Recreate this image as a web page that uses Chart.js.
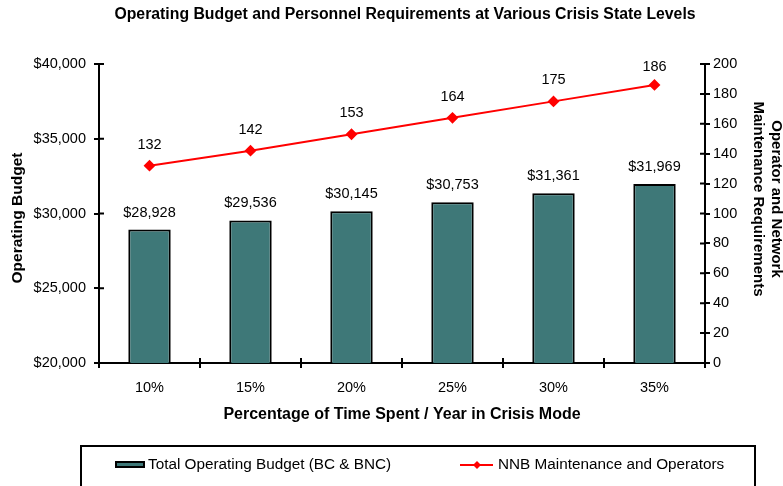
<!DOCTYPE html>
<html>
<head>
<meta charset="utf-8">
<script src="https://cdn.jsdelivr.net/npm/chart.js@4.4.1/dist/chart.umd.min.js"></script>
<style>
  html, body { margin: 0; padding: 0; background: #fff; }
  canvas { display: block; }
</style>
</head>
<body>
<canvas id="budgetChart" width="783" height="486"></canvas>
<script>
// ====== Chart Data ======
const crisisLevels = ['10%', '15%', '20%', '25%', '30%', '35%'];
const operatingBudget = [28928, 29536, 30145, 30753, 31361, 31969];
const personnelNeeds = [132, 142, 153, 164, 175, 186];
const budgetTicks = [20000, 25000, 30000, 35000, 40000];
const personnelTicks = [0, 20, 40, 60, 80, 100, 120, 140, 160, 180, 200];

const chartTitle = 'Operating Budget and Personnel Requirements at Various Crisis State Levels';
const leftTitle = 'Operating Budget';
const rightTitle = ['Operator and Network', 'Maintenance Requirements'];
const FONT = "'Liberation Sans', Arial, sans-serif";
const BAR_COLOR = '#3e7878';

// ====== Small plugins ======
const titles = {
  id: 'titles',
  afterDraw(chart) {
    const { ctx, chartArea } = chart;
    ctx.save();
    ctx.fillStyle = '#000';
    ctx.textAlign = 'center';
    ctx.textBaseline = 'middle';
    ctx.font = 'bold 15.8px ' + FONT;
    ctx.fillText(chartTitle, (chartArea.left + chartArea.right) / 2 + 3, 15);

    // left axis title
    ctx.font = 'bold 15.5px ' + FONT;
    ctx.save();
    ctx.translate(18, 218);
    ctx.rotate(-Math.PI / 2);
    ctx.fillText(leftTitle, 0, 0);
    ctx.restore();

    // right axis title, two lines
    ctx.font = 'bold 15px ' + FONT;
    ctx.save();
    ctx.translate(776, 199);
    ctx.rotate(Math.PI / 2);
    ctx.fillText(rightTitle[0], 0, 0);
    ctx.fillText(rightTitle[1], 0, 18);
    ctx.restore();
    ctx.restore();
  }
};

const valueLabels = {
  id: 'valueLabels',
  afterDatasetsDraw(chart) {
    const { ctx, chartArea } = chart;
    ctx.save();
    ctx.font = '14.5px ' + FONT;
    ctx.fillStyle = '#000';
    ctx.textAlign = 'center';
    ctx.textBaseline = 'middle';
    chart.data.datasets.forEach((ds, i) => {
      chart.getDatasetMeta(i).data.forEach((el, j) => {
        const v = ds.data[j];
        if (ds.type === 'bar') {
          ctx.fillText('$' + v.toLocaleString('en-US'), el.x, el.y - 17);
        } else {
          ctx.fillText(String(v), el.x, Math.max(el.y - 21, chartArea.top + 3));
        }
      });
    });
    ctx.restore();
  }
};

// ticks that cross the axis line (inner half)
const innerTicks = {
  id: 'innerTicks',
  afterDraw(chart) {
    const { ctx, chartArea, scales } = chart;
    ctx.save();
    ctx.strokeStyle = '#000';
    ctx.lineWidth = 2;
    ctx.beginPath();
    scales.y.ticks.forEach((t, i) => {
      const y = scales.y.getPixelForTick(i);
      ctx.moveTo(chartArea.left, y); ctx.lineTo(chartArea.left + 5, y);
    });
    scales.y1.ticks.forEach((t, i) => {
      const y = scales.y1.getPixelForTick(i);
      ctx.moveTo(chartArea.right - 5, y); ctx.lineTo(chartArea.right, y);
    });
    const x = scales.x;
    const step = x.getPixelForValue(1) - x.getPixelForValue(0);
    for (let i = 0; i <= crisisLevels.length; i++) {
      const px = x.getPixelForValue(0) - step / 2 + i * step;
      ctx.moveTo(px, chartArea.bottom - 5); ctx.lineTo(px, chartArea.bottom);
    }
    ctx.stroke();
    ctx.restore();
  }
};

const boxLegend = {
  id: 'boxLegend',
  afterDraw(chart) {
    const ctx = chart.ctx;
    const bar = chart.data.datasets[0];
    const line = chart.data.datasets[1];
    ctx.save();
    ctx.strokeStyle = '#000';
    ctx.lineWidth = 2;
    ctx.strokeRect(81, 446, 674, 60);

    ctx.fillStyle = bar.backgroundColor;
    ctx.fillRect(116, 462, 28, 5);
    ctx.strokeRect(116, 462, 28, 5);

    ctx.strokeStyle = line.borderColor;
    ctx.beginPath();
    ctx.moveTo(460, 465); ctx.lineTo(493, 465);
    ctx.stroke();
    ctx.fillStyle = line.borderColor;
    ctx.beginPath();
    ctx.moveTo(477, 461); ctx.lineTo(481, 465); ctx.lineTo(477, 469); ctx.lineTo(473, 465);
    ctx.closePath();
    ctx.fill();

    ctx.fillStyle = '#000';
    ctx.font = '15.3px ' + FONT;
    ctx.textBaseline = 'middle';
    ctx.textAlign = 'left';
    ctx.fillText(bar.label, 148, 465);
    ctx.fillText(line.label, 498, 465);
    ctx.restore();
  }
};

// ====== Chart ======
const ctx = document.getElementById('budgetChart').getContext('2d');
const budgetChart = new Chart(ctx, {
  type: 'bar',
  data: {
    labels: crisisLevels,
    datasets: [{
      type: 'bar',
      label: 'Total Operating Budget (BC & BNC)',
      data: operatingBudget,
      backgroundColor: BAR_COLOR,
      borderColor: '#000',
      borderWidth: 2,
      borderSkipped: false,
      barPercentage: 0.42,
      categoryPercentage: 1.0,
      yAxisID: 'y',
      order: 2
    }, {
      type: 'line',
      label: 'NNB Maintenance and Operators',
      data: personnelNeeds,
      borderColor: '#ff0000',
      backgroundColor: '#ff0000',
      borderWidth: 2,
      pointStyle: 'rectRot',
      pointRadius: 4.5,
      pointBackgroundColor: '#ff0000',
      pointBorderColor: '#ff0000',
      tension: 0,
      fill: false,
      yAxisID: 'y1',
      order: 1
    }]
  },
  options: {
    responsive: false,
    animation: false,
    devicePixelRatio: 1,
    layout: { padding: { top: 64, left: 0, right: 0, bottom: 0 } },
    plugins: {
      legend: { display: false },
      title: { display: false },
      tooltip: { enabled: false }
    },
    scales: {
      x: {
        grid: { offset: true, drawOnChartArea: false, tickLength: 5, color: '#000', lineWidth: 2 },
        border: { display: true, color: '#000', width: 2 },
        ticks: { color: '#000', font: { family: FONT, size: 14.5 }, padding: 11 },
        title: {
          display: true,
          text: 'Percentage of Time Spent / Year in Crisis Mode',
          color: '#000',
          font: { family: FONT, size: 16, weight: 'bold', lineHeight: 1.2 },
          padding: { top: 0, bottom: 62 }
        },
        afterFit(s) { s.height = 123; }
      },
      y: {
        position: 'left',
        min: budgetTicks[0],
        max: budgetTicks[budgetTicks.length - 1],
        afterBuildTicks(s) { s.ticks = budgetTicks.map(v => ({ value: v })); },
        grid: { drawOnChartArea: false, tickLength: 5, color: '#000', lineWidth: 2 },
        border: { display: true, color: '#000', width: 2 },
        ticks: {
          color: '#000',
          font: { family: FONT, size: 14.5 },
          padding: 8,
          callback: v => '$' + v.toLocaleString('en-US')
        },
        afterFit(s) { s.width = 99; }
      },
      y1: {
        position: 'right',
        min: personnelTicks[0],
        max: personnelTicks[personnelTicks.length - 1],
        afterBuildTicks(s) { s.ticks = personnelTicks.map(v => ({ value: v })); },
        grid: { drawOnChartArea: false, tickLength: 5, color: '#000', lineWidth: 2 },
        border: { display: true, color: '#000', width: 2 },
        ticks: { color: '#000', font: { family: FONT, size: 14.5 }, padding: 3 },
        afterFit(s) { s.width = 78; }
      }
    }
  },
  plugins: [titles, valueLabels, innerTicks, boxLegend]
});
</script>
</body>
</html>
